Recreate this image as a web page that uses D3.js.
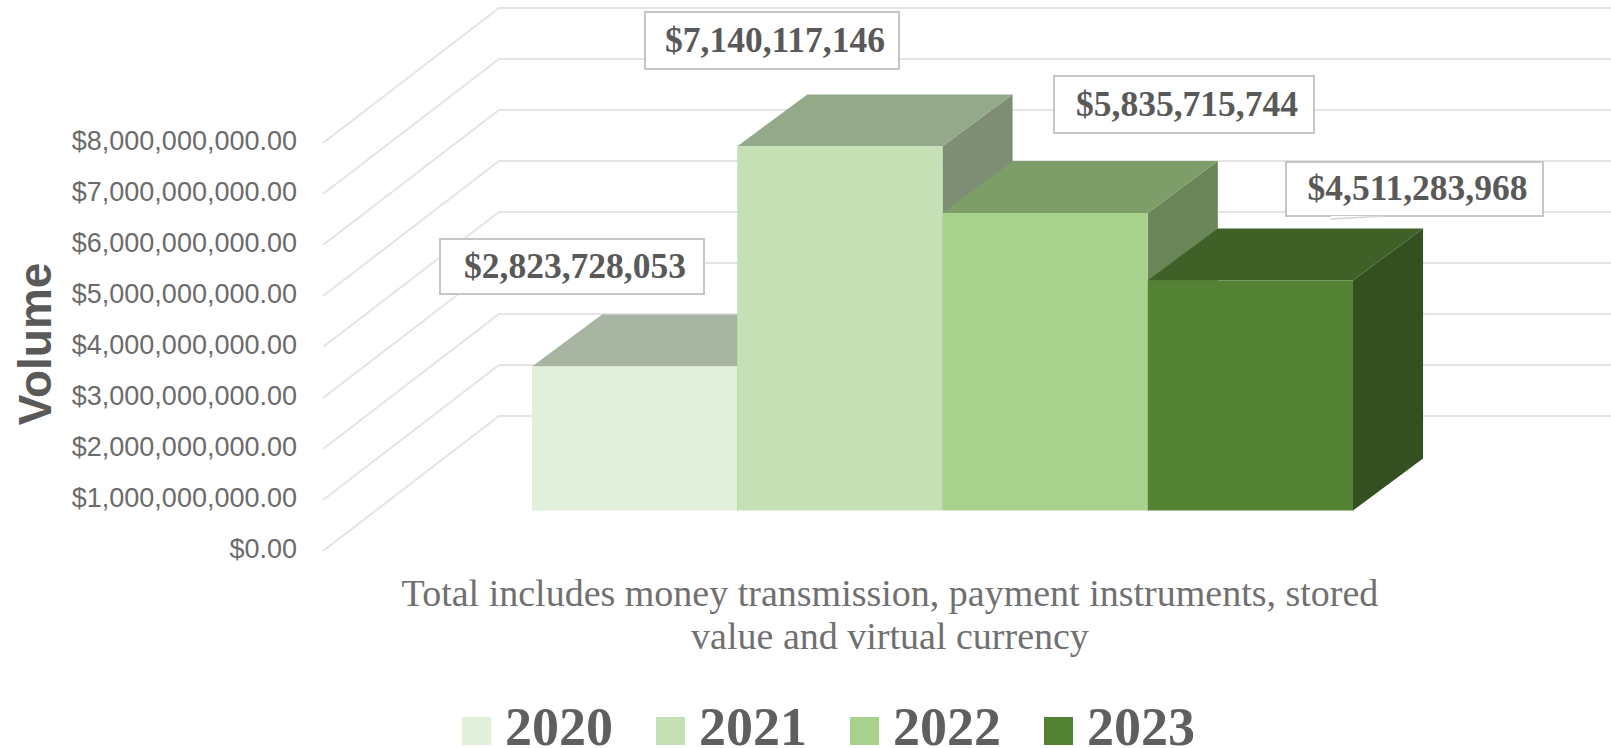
<!DOCTYPE html>
<html>
<head>
<meta charset="utf-8">
<script src="https://cdn.jsdelivr.net/npm/d3@7"></script>
<style>
html, body { margin: 0; padding: 0; background: #fff; overflow: hidden; }
svg { display: block; }
.axis path, .axis line { display: none; }
</style>
</head>
<body>
<svg></svg>
<script>
var years = ["2020", "2021", "2022", "2023"];
var volumes = [2823728053, 7140117146, 5835715744, 4511283968];
var tickValues = [0, 1e9, 2e9, 3e9, 4e9, 5e9, 6e9, 7e9, 8e9];
var noteLines = ["Total includes money transmission, payment instruments, stored", "value and virtual currency"];

var frontColors = ["#e2efda", "#c5e0b4", "#a9d18e", "#548235"];
var topColors = ["#a9b5a3", "#94a98a", "#7e9e69", "#3f6128"];
var sideColors = ["#88927f", "#7e8d74", "#6a8558", "#344f20"];

var width = 1611;
var height = 748;

// floor depth: how far a point moves on screen going from front edge to back wall
var depthX = 176;
var depthY = -135;
var barDepthX = 182;
var barFront = 0.3;
var barBack = 0.685;

var svg = d3.select("svg")
    .attr("width", width)
    .attr("height", height);

var x = d3.scaleBand()
    .domain(years)
    .range([477.4, 1298.4])
    .padding(0);

var y = d3.scaleLinear()
    .domain([0, 8e9])
    .range([551, 143]);

var pt = function (px, v, t) {
    return [px + barDepthX * t, y(v) + depthY * t];
};

var poly = function (points) {
    return "M" + points.map(function (p) { return p.join(","); }).join("L") + "Z";
};

// gridlines on the side wall and the back wall
svg.append("g")
    .selectAll("path")
    .data(tickValues)
    .enter().append("path")
    .attr("d", function (d) {
        var a = [323, y(d)];
        var b = [323 + depthX, y(d) + depthY];
        return "M" + a.join(",") + "L" + b.join(",") + "L" + width + "," + b[1];
    })
    .attr("fill", "none")
    .attr("stroke", "#e4e4e4")
    .attr("stroke-width", 2);

// y axis labels
var yAxis = d3.axisLeft(y)
    .tickValues(tickValues)
    .tickSize(0)
    .tickPadding(0)
    .tickFormat(d3.format("$,.2f"));

svg.append("g")
    .attr("class", "axis")
    .attr("transform", "translate(297,-2)")
    .call(yAxis)
    .selectAll("text")
    .attr("font-family", "'Liberation Sans', sans-serif")
    .attr("font-size", 27)
    .attr("fill", "#6b6b6b");

svg.append("text")
    .attr("transform", "translate(51,344) rotate(-90)")
    .attr("text-anchor", "middle")
    .attr("font-family", "'Liberation Sans', sans-serif")
    .attr("font-weight", "bold")
    .attr("font-size", 46)
    .attr("fill", "#595959")
    .text("Volume");

// bars, left to right so each one covers the side of the previous one
var bars = svg.append("g")
    .selectAll("g")
    .data(volumes)
    .enter().append("g");

bars.append("path")
    .attr("fill", function (d, i) { return sideColors[i]; })
    .attr("d", function (d, i) {
        var r = x(years[i]) + x.bandwidth();
        return poly([pt(r, d, barFront), pt(r, d, barBack), pt(r, 0, barBack), pt(r, 0, barFront)]);
    });

bars.append("path")
    .attr("fill", function (d, i) { return topColors[i]; })
    .attr("d", function (d, i) {
        var l = x(years[i]);
        var r = l + x.bandwidth();
        return poly([pt(l, d, barFront), pt(l, d, barBack), pt(r, d, barBack), pt(r, d, barFront)]);
    });

bars.append("path")
    .attr("fill", function (d, i) { return frontColors[i]; })
    .attr("d", function (d, i) {
        var l = x(years[i]);
        var r = l + x.bandwidth();
        return poly([pt(l, d, barFront), pt(r, d, barFront), pt(r, 0, barFront), pt(l, 0, barFront)]);
    });

// value labels, boxes sit by hand like the moved labels in the original
var labelBoxes = [
    {left: 440, top: 239, w: 264, h: 55},
    {left: 645, top: 12, w: 254, h: 57},
    {left: 1054, top: 76, w: 260, h: 57},
    {left: 1286, top: 162, w: 257, h: 54}
];

var labels = svg.append("g")
    .selectAll("g")
    .data(volumes)
    .enter().append("g")
    .attr("transform", function (d, i) {
        return "translate(" + labelBoxes[i].left + "," + labelBoxes[i].top + ")";
    });

labels.append("rect")
    .attr("width", function (d, i) { return labelBoxes[i].w; })
    .attr("height", function (d, i) { return labelBoxes[i].h; })
    .attr("fill", "#fff")
    .attr("stroke", "#c6c6c6")
    .attr("stroke-width", 2);

labels.append("text")
    .attr("x", function (d, i) { return labelBoxes[i].w / 2 + 3; })
    .attr("y", function (d, i) { return labelBoxes[i].h / 2 + 11; })
    .attr("text-anchor", "middle")
    .attr("font-family", "'Liberation Serif', serif")
    .attr("font-weight", "bold")
    .attr("font-size", 35.5)
    .attr("fill", "#595959")
    .text(function (d) { return d3.format("$,")(d); });

// little callout tip under the 2023 box
svg.append("path")
    .attr("d", "M1331,216L1385,216L1331,219Z")
    .attr("fill", "#fff");
svg.append("path")
    .attr("d", "M1331,219L1385,216")
    .attr("fill", "none")
    .attr("stroke", "#d4d4d4")
    .attr("stroke-width", 1.5);

// note under the chart
svg.append("g")
    .selectAll("text")
    .data(noteLines)
    .enter().append("text")
    .attr("x", 890)
    .attr("y", function (d, i) { return 606 + i * 43; })
    .attr("text-anchor", "middle")
    .attr("font-family", "'Liberation Serif', serif")
    .attr("font-size", 38)
    .attr("fill", "#707070")
    .text(function (d) { return d; });

// legend
var legendX = d3.scalePoint()
    .domain(years)
    .range([462, 1044]);

var legend = svg.append("g")
    .selectAll("g")
    .data(years)
    .enter().append("g")
    .attr("transform", function (d) { return "translate(" + legendX(d) + ",717)"; });

legend.append("rect")
    .attr("width", 29)
    .attr("height", 28)
    .attr("fill", function (d, i) { return frontColors[i]; });

legend.append("text")
    .attr("x", 43)
    .attr("y", 28)
    .attr("font-family", "'Liberation Serif', serif")
    .attr("font-weight", "bold")
    .attr("font-size", 54)
    .attr("fill", "#5f5f5f")
    .text(function (d) { return d; });
</script>
</body>
</html>
